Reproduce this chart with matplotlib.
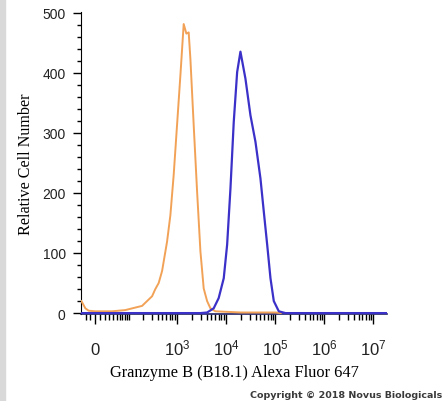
"""
Flow cytometry histogram: Granzyme B (B18.1) Alexa Fluor 647 vs isotype.
"""

import numpy as np
import matplotlib
matplotlib.use("Agg")
import matplotlib.pyplot as plt
from matplotlib.patches import Rectangle

# isotype control (orange)
iso_x = [-30, -20.8, -13.7, 0, 20.8, 37, 82, 190, 241, 306, 357, 418, 491,
         621, 726, 848, 993, 1163, 1357, 1540, 1716, 1859, 2170, 2547, 2975,
         3472, 4075, 4760, 6020, 20000, 100000, 130000]
iso_y = [20, 8, 4, 3, 3, 3, 5, 12, 20, 28, 40, 50, 70,
         119, 163, 230, 313, 396, 481, 465, 467, 423, 313, 202, 103,
         41, 20, 8, 3, 1, 1, 0]

# Granzyme B stained (blue)
gzb_x = [-31, 2975, 4075, 5556, 7020, 8900, 10440, 12190, 14235, 16700,
         19500, 24660, 31200, 39460, 49900, 58340, 68400, 79860, 93350,
         118100, 161800, 1.9e7]
gzb_y = [0, 0, 1, 8, 25, 58, 114, 207, 318, 401,
         435, 390, 329, 285, 224, 169, 114, 58, 20,
         3, 0, 0]

x_ticks = [0, 1e3, 1e4, 1e5, 1e6, 1e7]
x_ticklabels = ["0", "$10^{3}$", "$10^{4}$", "$10^{5}$", "$10^{6}$", "$10^{7}$"]
y_ticks = [0, 100, 200, 300, 400, 500]

W = 42.8


def fwd(x):
    return np.arcsinh(np.asarray(x, dtype=float) / W) / np.log(10)


def inv(u):
    return W * np.sinh(np.asarray(u, dtype=float) * np.log(10))


plt.rcParams["mathtext.fontset"] = "custom"
plt.rcParams["mathtext.rm"] = "Liberation Sans"
plt.rcParams["mathtext.it"] = "Liberation Sans:italic"
plt.rcParams["font.family"] = "Liberation Sans"

fig = plt.figure(figsize=(4.44, 4.02), dpi=100)
fig.patches.append(Rectangle((0, 0), 5 / 444, 1, transform=fig.transFigure,
                             color="#d9d9d9", zorder=0))
ax = fig.add_axes([81 / 444, 87 / 402, 306 / 444, 302 / 402])
ax.set_xscale("function", functions=(fwd, inv))

ax.plot(iso_x, iso_y, color="#f2a257", lw=1.4, zorder=3)
ax.plot(gzb_x, gzb_y, color="#3b31c9", lw=1.6, zorder=4)

ax.set_xlim(-31, 1.9e7)
ax.set_ylim(-1.5, 501)

for s in ["top", "right"]:
    ax.spines[s].set_visible(False)
ax.spines["bottom"].set_color("#222266")
ax.spines["bottom"].set_linewidth(1.2)

ax.set_xticks(x_ticks)
ax.set_xticklabels(x_ticklabels)
minor = [-20, -10] + [k * 10 ** n for n in range(1, 7) for k in range(1, 10)
                      if k * 10 ** n not in x_ticks]
ax.set_xticks(minor, minor=True)
ax.set_yticks(y_ticks)
ax.set_yticks(np.arange(0, 501, 20), minor=True)

ax.tick_params(axis="x", which="major", direction="out", length=7, width=1,
               pad=22, labelsize=12, labelcolor="#222222")
ax.tick_params(axis="x", which="minor", direction="out", length=4, width=1)
ax.tick_params(axis="y", which="major", direction="out", length=6, width=1,
               pad=5, labelsize=10, labelcolor="#222222")
ax.tick_params(axis="y", which="minor", direction="out", length=3, width=1)
for lbl in ax.get_xticklabels():
    lbl.set_verticalalignment("baseline")

ax.set_xlabel("Granzyme B (B18.1) Alexa Fluor 647", family="Liberation Serif",
              fontsize=11.8, labelpad=5)
ax.set_ylabel("Relative Cell Number", family="Liberation Serif",
              fontsize=11.6, labelpad=6)

fig.text(0.997, 0.004, "Copyright \u00a9 2018 Novus Biologicals", ha="right",
         va="bottom", fontsize=6.8, fontweight="bold", color="#3a3a3a",
         family="DejaVu Sans")

plt.savefig("out.png", dpi=100)
plt.close()
